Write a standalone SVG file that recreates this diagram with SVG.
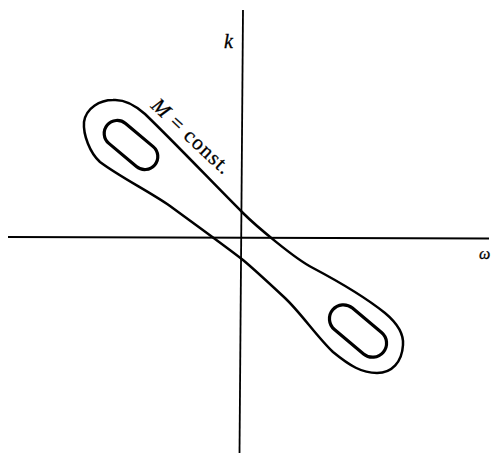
<svg xmlns="http://www.w3.org/2000/svg" width="502" height="455" viewBox="0 0 502 455">
<style>
.axis{stroke:#000;stroke-width:1.8;fill:none}
.curve{stroke:#000;stroke-width:2.5;fill:none;stroke-linejoin:round}
.inner{stroke:#000;stroke-width:3.2;fill:none}
.lbl{font-family:"Liberation Serif","DejaVu Serif",serif;font-style:italic;fill:#000;stroke:#000;stroke-width:0.3}
</style>
<rect width="502" height="455" fill="#fff"/>
<g id="axes">
<line class="axis" x1="8" y1="237" x2="489" y2="238.5"/>
<line class="axis" x1="243" y1="10" x2="239.5" y2="453"/>
</g>
<g id="outer-contour">
<path class="curve" d="M 113 100 C 125 99, 135 105, 145 114 C 178 146, 212 182, 243 213 C 255 225, 295 259, 313 268 C 330 277, 365 297, 385 313 C 397 323, 404 333, 403 345 C 402 362, 392 373, 377 373 C 362 373, 350 366, 333 352 C 318 338, 300 312, 285 298 C 270 284, 255 270, 243 260 C 225 246, 200 228, 170 206 C 150 192, 120 177, 100 162 C 90 153, 83 135, 84 122 C 86 108, 100 100, 113 100 Z"/>
</g>
<g id="inner-left">
<rect class="inner" x="100" y="132" width="62" height="26" rx="13" transform="rotate(40 131 145)"/>
</g>
<g id="inner-right">
<rect class="inner" x="325" y="317" width="66" height="28" rx="14" transform="rotate(40 358 331)"/>
</g>
<g id="labels">
<text class="lbl" x="224" y="48" font-size="20">k</text>
<text class="lbl" x="479" y="259" font-size="16">ω</text>
<text class="lbl" x="150" y="107" font-size="21" textLength="100" lengthAdjust="spacing" transform="rotate(43 150 107)"><tspan>M</tspan><tspan font-style="normal"> = const.</tspan></text>
</g>
</svg>
